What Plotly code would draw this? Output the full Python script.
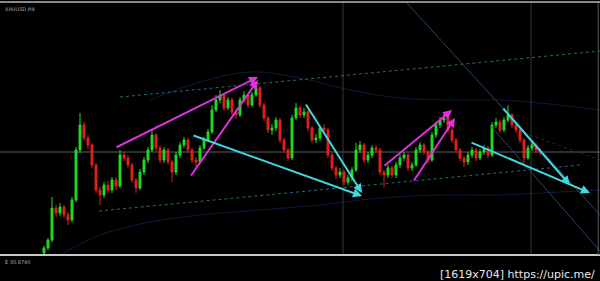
import plotly.graph_objects as go

# ---- candle data (x = bar index, price in chart units) ----
first_open = 2
closes = [7, 15, 47, 42, 48, 40, 35, 55, 105, 130,
          117, 110, 90, 65, 60, 70, 65, 75, 69, 100,
          97, 90, 75, 67, 83, 95, 105, 120, 107, 95,
          105, 93, 83, 100, 110, 115, 105, 95, 93, 107,
          115, 123, 145, 155, 160, 147, 155, 143, 140, 155,
          160, 150, 160, 167, 150, 137, 125, 127, 135, 115,
          105, 97, 137, 147, 140, 143, 127, 115, 117, 127,
          125, 100, 87, 80, 83, 73, 77, 85, 105, 110,
          95, 100, 107, 105, 83, 80, 87, 80, 90, 97,
          100, 87, 90, 105, 110, 103, 95, 120, 130, 135,
          137, 125, 115, 105, 97, 93, 100, 105, 97, 103,
          107, 100, 130, 133, 125, 135, 140, 130, 125, 115,
          97, 107, 110, 105, 103]
highs = [9, 17, 58, 50, 52, 50, 43, 58, 108, 142,
         133, 120, 112, 92, 68, 73, 74, 78, 78, 105,
         103, 100, 92, 77, 86, 98, 108, 125, 122, 110,
         108, 107, 95, 103, 113, 118, 117, 107, 98, 110,
         118, 126, 150, 160, 165, 162, 158, 157, 146, 158,
         164, 162, 163, 171, 169, 152, 139, 131, 138, 137,
         117, 107, 140, 152, 149, 147, 145, 129, 121, 130,
         131, 127, 102, 89, 87, 85, 80, 88, 112, 114,
         112, 103, 110, 110, 107, 85, 90, 89, 93, 100,
         103, 102, 93, 108, 113, 112, 105, 123, 133, 138,
         141, 139, 127, 117, 107, 99, 103, 108, 107, 106,
         110, 109, 133, 137, 135, 138, 150, 142, 132, 127,
         117, 110, 113, 112, 107]
lows = [0, 5, 13, 38, 39, 37, 30, 33, 53, 102,
        114, 106, 87, 62, 50, 57, 62, 62, 65, 67,
        94, 87, 72, 62, 65, 80, 92, 103, 104, 92,
        92, 90, 73, 80, 97, 107, 102, 92, 88, 91,
        105, 113, 121, 143, 152, 144, 145, 140, 136, 138,
        153, 147, 148, 158, 147, 134, 122, 120, 124, 112,
        102, 94, 95, 135, 137, 137, 124, 112, 112, 114,
        122, 97, 84, 76, 77, 70, 70, 74, 83, 102,
        92, 92, 97, 102, 80, 68, 77, 77, 77, 87,
        94, 84, 84, 88, 102, 100, 92, 93, 117, 127,
        132, 122, 112, 102, 94, 88, 90, 97, 94, 95,
        100, 97, 98, 127, 122, 123, 133, 127, 122, 112,
        92, 95, 104, 102, 100]
opens = [first_open] + closes[:-1]
bars = list(range(len(closes)))

# ---- drawn objects (bar index, price) ----
magenta_arrows = [((17.75, 107), (53.5, 178)), ((36.5, 78), (53.5, 175)),
                  ((84.75, 88), (102, 145)), ((92.25, 73), (102.75, 137))]
cyan_arrows = [((37, 120), (79.5, 59)), ((65.25, 152), (79.5, 62)),
               ((106.5, 113), (136.5, 62)), ((114.5, 148), (131.5, 70))]
channel_lines = [((19, 158), (139, 204)), ((13.75, 44), (134, 90))]
dark_diagonals = [((90.75, 252), (139, 40)), ((111.5, 130), (139, 4))]
red_dotted = ((121.5, 120), (139, 95))
hline_price = 103
vline_bars = [74.75, 121.75]
env_upper_x = [26.5, 39, 51.5, 64, 76.5, 89, 101.5, 114, 124, 139]
env_upper_y = [155, 173, 183, 177, 165, 157, 155, 155, 152, 145]
env_lower_x = [4, 14, 26.5, 39, 54, 69, 84, 99, 114, 129, 139]
env_lower_y = [0, 20, 33, 40, 45, 50, 57, 60, 60, 63, 65]

fig = go.Figure()
fig.add_trace(go.Scatter(x=env_upper_x, y=env_upper_y, mode="lines",
                         line=dict(color="rgba(50,50,140,0.45)", width=1, shape="spline"),
                         hoverinfo="skip", showlegend=False))
fig.add_trace(go.Scatter(x=env_lower_x, y=env_lower_y, mode="lines",
                         line=dict(color="rgba(50,50,140,0.45)", width=1, shape="spline"),
                         hoverinfo="skip", showlegend=False))

for (x0, y0), (x1, y1) in channel_lines:
    fig.add_trace(go.Scatter(x=[x0, x1], y=[y0, y1], mode="lines",
                             line=dict(color="#246a82", width=1, dash="dot"),
                             hoverinfo="skip", showlegend=False))
for (x0, y0), (x1, y1) in dark_diagonals:
    fig.add_trace(go.Scatter(x=[x0, x1], y=[y0, y1], mode="lines",
                             line=dict(color="#284866", width=1),
                             hoverinfo="skip", showlegend=False))
fig.add_trace(go.Scatter(x=[red_dotted[0][0], red_dotted[1][0]],
                         y=[red_dotted[0][1], red_dotted[1][1]], mode="lines",
                         line=dict(color="#5a1818", width=1, dash="dot"),
                         hoverinfo="skip", showlegend=False))

fig.add_trace(go.Candlestick(
    x=bars, open=opens, high=highs, low=lows, close=closes,
    increasing=dict(line=dict(color="#22d822", width=1), fillcolor="#22d822"),
    decreasing=dict(line=dict(color="#dd2020", width=1), fillcolor="#dd2020"),
    showlegend=False, hoverinfo="skip"))

for arrows, col in ((magenta_arrows, "#e030e0"), (cyan_arrows, "#40d8e0")):
    for (x0, y0), (x1, y1) in arrows:
        fig.add_annotation(x=x1, y=y1, ax=x0, ay=y0, xref="x", yref="y",
                           axref="x", ayref="y", showarrow=True, text="",
                           arrowhead=2, arrowsize=0.9, arrowwidth=2,
                           arrowcolor=col, standoff=0, startstandoff=0)

fig.add_shape(type="line", xref="paper", x0=0, x1=1, yref="y",
              y0=hline_price, y1=hline_price, line=dict(color="#5e5e5e", width=1),
              layer="below")
for vb in vline_bars:
    fig.add_shape(type="line", xref="x", x0=vb, x1=vb, yref="paper", y0=0, y1=1,
                  line=dict(color="#3a3a3a", width=1), layer="below")
# frame lines
fig.add_shape(type="line", xref="paper", x0=0, x1=1, yref="paper", y0=1.004, y1=1.004,
              line=dict(color="#8a8a8a", width=2))
fig.add_shape(type="line", xref="paper", x0=0, x1=1, yref="paper", y0=0, y1=0,
              line=dict(color="#c8c8c8", width=2))
fig.add_shape(type="line", xref="paper", x0=0.997, x1=0.997, yref="paper", y0=0, y1=1,
              line=dict(color="#5a5a5a", width=1))

fig.add_annotation(text="XAUUSD,H4", xref="paper", yref="paper", x=0.005, y=0.995,
                   xanchor="left", yanchor="top", showarrow=False,
                   font=dict(size=5, color="#aaaaaa", family="DejaVu Sans"))
fig.add_annotation(text="E 30.8740", xref="paper", yref="paper", x=0.005, y=-0.008,
                   xanchor="left", yanchor="top", showarrow=False,
                   font=dict(size=5, color="#aaaaaa", family="DejaVu Sans"))
fig.add_annotation(text="[1619x704] https://upic.me/", xref="paper", yref="paper",
                   x=0.995, y=-0.045, xanchor="right", yanchor="top", showarrow=False,
                   font=dict(size=11, color="#e8e8e8", family="DejaVu Sans"))

fig.update_layout(
    width=600, height=281,
    margin=dict(l=0, r=0, t=3, b=26),
    paper_bgcolor="#000000", plot_bgcolor="#000000",
    xaxis=dict(range=[-11, 139], visible=False, rangeslider=dict(visible=False)),
    yaxis=dict(range=[0, 252], visible=False),
    showlegend=False,
)
fig.write_html("out.html")
